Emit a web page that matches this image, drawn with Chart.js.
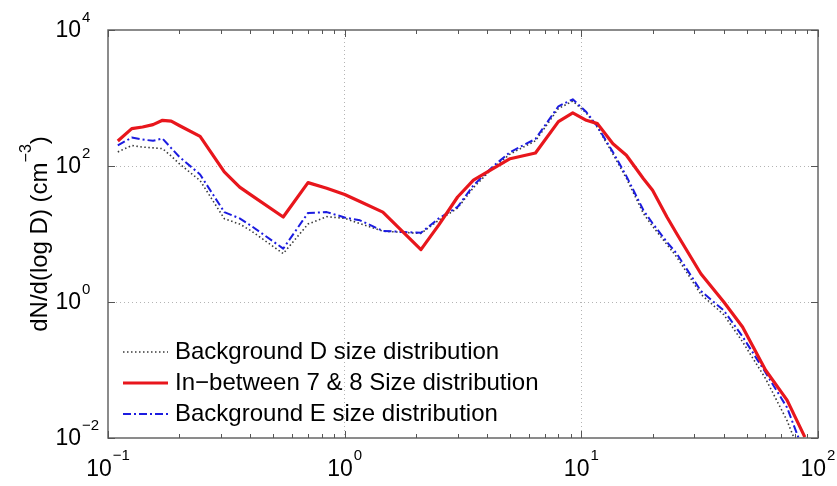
<!DOCTYPE html>
<html>
<head>
<meta charset="utf-8">
<script src="https://cdn.jsdelivr.net/npm/chart.js@4.4.1/dist/chart.umd.min.js"></script>
<style>
html, body { margin: 0; padding: 0; background: #fff; }
#wrap { width: 837px; height: 486px; position: relative; }
</style>
</head>
<body>
<div id="wrap"><canvas id="myChart"></canvas></div>
<script>
// particle diameter (x) and dN/d(log D) per series
const diameters = [0.11, 0.126, 0.14, 0.155, 0.17, 0.185, 0.2, 0.245, 0.31, 0.36, 0.4, 0.55, 0.7, 0.84, 1.0, 1.16, 1.45, 2.1, 2.5, 3.0,
                   3.5, 4.2, 5.0, 6.4, 8.0, 9.2, 10.5, 11.7, 13.6, 15.5, 18.3, 20, 23, 25.3, 32, 40, 48, 60, 74, 88];
const backgroundD = [161, 200, 190, 185, 180, 140, 108, 61, 16.8, 14, 11.3, 5.15, 14, 18, 17, 14.2, 11, 10.2, 16, 24,
                     48, 92, 150, 235, 700, 900, 600, 370, 150, 66, 20, 13, 7, 4.6, 1.3, 0.65, 0.26, 0.075, 0.018, 0.004];
const inBetween78 = [233, 355, 375, 406, 470, 457, 394, 273, 82, 49, 38, 17.8, 57, 47, 38, 30, 21, 5.9, 13.6, 35,
                     62, 90, 128, 155, 450, 603, 470, 420, 213, 144, 65, 44, 17.8, 10.1, 2.6, 1.0, 0.43, 0.10, 0.036, 0.0103];
const backgroundE = [201, 262, 245, 235, 253, 183, 137, 75, 21, 17, 13.4, 6.1, 20.4, 21, 17.5, 15.9, 11.1, 10.4, 17, 25,
                     52, 96, 160, 250, 755, 957, 622, 380, 160, 71, 22.3, 14.4, 7.6, 5.15, 1.45, 0.75, 0.31, 0.092, 0.028, 0.0057];
const seriesLabels = ['Background D size distribution', 'In\u2212between 7 & 8 Size distribution', 'Background E size distribution'];
const xTicks = [0.1, 1, 10, 100];
const yTicks = [0.01, 1, 100, 10000];
const yTitle = ['dN/d(log D) (cm', '\u22123', ')'];

const FONT = "'Liberation Sans', Arial, Helvetica, sans-serif";

function pts(ys) {
    return diameters.map((d, i) => ({ x: d, y: ys[i] }));
}

// minor x ticks 2..9 in every decade
let xMinor = [];
for (let d = 0.1; d < 99; d *= 10) {
    for (let k = 2; k <= 9; k++) xMinor.push(k * d);
}

function expText(v) {
    let e = Math.round(Math.log10(v));
    return e < 0 ? '\u2212' + (-e) : String(e);
}

const framePlugin = {
    id: 'frame',
    afterDraw(chart) {
        const ctx = chart.ctx;
        const a = chart.chartArea;
        const xs = chart.scales.x, ys = chart.scales.y;
        ctx.save();

        // box
        ctx.strokeStyle = '#666';
        ctx.lineWidth = 1.5;
        ctx.strokeRect(a.left, a.top, a.right - a.left, a.bottom - a.top);

        // tick marks
        ctx.lineWidth = 1;
        ctx.strokeStyle = '#555';
        ctx.beginPath();
        xMinor.forEach(v => {
            let px = Math.round(xs.getPixelForValue(v)) + 0.5;
            ctx.moveTo(px, a.bottom); ctx.lineTo(px, a.bottom - 4);
            ctx.moveTo(px, a.top); ctx.lineTo(px, a.top + 4);
        });
        xTicks.forEach(v => {
            let px = Math.round(xs.getPixelForValue(v)) + 0.5;
            ctx.moveTo(px, a.bottom); ctx.lineTo(px, a.bottom - 7);
            ctx.moveTo(px, a.top); ctx.lineTo(px, a.top + 7);
        });
        yTicks.forEach(v => {
            let py = Math.round(ys.getPixelForValue(v)) + 0.5;
            ctx.moveTo(a.left, py); ctx.lineTo(a.left + 7, py);
            ctx.moveTo(a.right, py); ctx.lineTo(a.right - 7, py);
        });
        ctx.stroke();

        // tick labels  10^n
        ctx.fillStyle = '#000';
        ctx.textBaseline = 'middle';
        yTicks.forEach(v => {
            let py = ys.getPixelForValue(v);
            ctx.font = '23px ' + FONT;
            ctx.textAlign = 'right';
            ctx.fillText('10', a.left - 27, py + 1);
            ctx.font = '15px ' + FONT;
            ctx.textAlign = 'left';
            ctx.fillText(expText(v), a.left - 26, py - 12);
        });
        xTicks.forEach(v => {
            let px = xs.getPixelForValue(v);
            ctx.font = '23px ' + FONT;
            let wb = ctx.measureText('10').width;
            ctx.font = '15px ' + FONT;
            let we = ctx.measureText(expText(v)).width;
            let x0 = px - (wb + we + 1) / 2;
            ctx.textAlign = 'left';
            ctx.font = '23px ' + FONT;
            ctx.fillText('10', x0, a.bottom + 32);
            ctx.font = '15px ' + FONT;
            ctx.fillText(expText(v), x0 + wb + 1, a.bottom + 18);
        });

        // y axis title, rotated
        ctx.save();
        ctx.translate(40, (a.top + a.bottom) / 2);
        ctx.rotate(-Math.PI / 2);
        ctx.font = '24px ' + FONT;
        let w1 = ctx.measureText(yTitle[0]).width;
        let w3 = ctx.measureText(yTitle[2]).width;
        ctx.font = '16px ' + FONT;
        let w2 = ctx.measureText(yTitle[1]).width;
        let sx = -(w1 + w2 + w3) / 2;
        ctx.textAlign = 'left';
        ctx.font = '24px ' + FONT;
        ctx.fillText(yTitle[0], sx, 0);
        ctx.font = '16px ' + FONT;
        ctx.fillText(yTitle[1], sx + w1, -13);
        ctx.font = '24px ' + FONT;
        ctx.fillText(yTitle[2], sx + w1 + w2, 0);
        ctx.restore();

        // legend inside the plot, bottom left
        const rows = [a.bottom - 86, a.bottom - 55, a.bottom - 24];
        chart.data.datasets.forEach((ds, i) => {
            let y = rows[i];
            ctx.save();
            ctx.strokeStyle = ds.borderColor;
            ctx.lineWidth = ds.borderWidth;
            ctx.setLineDash(ds.borderDash || []);
            ctx.beginPath();
            ctx.moveTo(a.left + 15, y);
            ctx.lineTo(a.left + 60, y);
            ctx.stroke();
            ctx.restore();
            ctx.font = '24px ' + FONT;
            ctx.fillStyle = '#000';
            ctx.textAlign = 'left';
            ctx.textBaseline = 'middle';
            ctx.fillText(ds.label, a.left + 67, y);
        });

        ctx.restore();
    }
};

const gridColor = (ctx) => {
    if (!ctx.tick) return 'rgba(0,0,0,0)';
    let e = Math.log10(ctx.tick.value);
    let edge = ctx.index === 0 || ctx.index === ctx.scale.ticks.length - 1;
    return (Math.abs(e - Math.round(e)) < 1e-6 && !edge) ? '#b4b4b4' : 'rgba(0,0,0,0)';
};

let canvas = document.getElementById('myChart');
let myChart = new Chart(canvas, {
    type: 'line',
    data: {
        datasets: [
            {
                label: seriesLabels[0],
                data: pts(backgroundD),
                borderColor: '#3a3a3a',
                borderWidth: 1.6,
                borderDash: [1.5, 2.5],
                order: 2
            },
            {
                label: seriesLabels[1],
                data: pts(inBetween78),
                borderColor: '#e8161c',
                borderWidth: 3.2,
                order: 0
            },
            {
                label: seriesLabels[2],
                data: pts(backgroundE),
                borderColor: '#1c1ce0',
                borderWidth: 2,
                borderDash: [8, 3, 2, 3],
                order: 1
            }
        ]
    },
    options: {
        responsive: true,
        maintainAspectRatio: false,
        animation: false,
        devicePixelRatio: 1,
        elements: {
            point: { radius: 0 },
            line: { tension: 0, fill: false, borderJoinStyle: 'round' }
        },
        layout: { padding: { top: 30, right: 19, left: 0, bottom: 0 } },
        plugins: {
            legend: { display: false },
            tooltip: { enabled: false }
        },
        scales: {
            x: {
                type: 'logarithmic',
                min: 0.1,
                max: 100,
                afterBuildTicks: (s) => { s.ticks = xTicks.map(v => ({ value: v })); },
                afterFit: (s) => { s.height = 48; },
                ticks: { display: false },
                grid: { color: gridColor, drawTicks: false, lineWidth: 1 },
                border: { display: false, dash: [1, 3] }
            },
            y: {
                type: 'logarithmic',
                min: 0.01,
                max: 10000,
                afterBuildTicks: (s) => { s.ticks = yTicks.map(v => ({ value: v })); },
                afterFit: (s) => { s.width = 108; },
                ticks: { display: false },
                grid: { color: gridColor, drawTicks: false, lineWidth: 1 },
                border: { display: false, dash: [1, 3] }
            }
        }
    },
    plugins: [framePlugin]
});
</script>
</body>
</html>
